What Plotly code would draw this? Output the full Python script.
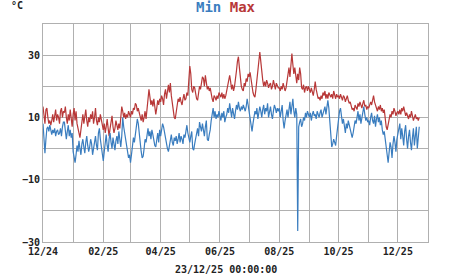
import pandas as pd
import plotly.graph_objects as go

start_date = "2024-12-01"

# Daily maximum temperatures (°C), month by month
tmax_2024_12 = [13.5, 10, 8, 12.5, 13, 10, 8, 9, 7.5, 9, 11, 8.5, 10, 12.5, 9, 11, 10, 8, 12, 13,
                10, 12, 11.5, 13.5, 10, 8, 11, 9, 12.5, 10, 7]
tmax_2025_01 = [11, 13, 9, 12, 8, 6, 5, 3.5, 6, 9, 11, 8, 10, 12.5, 9, 7, 10, 8.5, 11, 9.5,
                12, 8, 10, 13, 9, 7.5, 10, 8.5, 11, 9, 7]
tmax_2025_02 = [6, 8, 5, 7, 9.5, 6.5, 4, 6.5, 8, 10.5, 7, 5, 6.5, 9, 7.5, 6, 8, 6.5, 10, 13.5,
                12, 10, 11.5, 9.5, 11, 10, 12, 10.5]
tmax_2025_03 = [10, 12, 11, 13, 12.5, 14.5, 14, 12, 13, 11.5, 10, 9, 11, 8.5, 10, 12, 9.5, 13, 16, 19,
                16.5, 14, 15.5, 13.5, 16, 14, 11, 13, 15.5, 14, 16]
tmax_2025_04 = [15, 17, 16, 14, 17.5, 19, 16, 18, 20.5, 18, 21, 17, 14, 12, 10, 9.5, 12, 14.5, 16, 15,
                16.5, 15, 14, 16, 17.5, 15.5, 16, 18, 17, 22]
tmax_2025_05 = [26.5, 24, 19, 18, 20, 19.5, 17, 16, 15.5, 18, 20, 19, 21, 23, 22.5, 20, 23.5, 21, 19, 20,
                18.5, 19.5, 17, 16, 15, 17, 16.5, 15.5, 17, 16, 18]
tmax_2025_06 = [17, 16.5, 18, 16, 17.5, 16, 17, 18.5, 20, 22, 23.5, 21.5, 19, 20.5, 18.5, 20, 22, 25, 28, 29.5,
                26, 22, 20, 19, 18.5, 21, 20, 22.5, 21.5, 24]
tmax_2025_07 = [23, 24.5, 22, 19, 18, 17, 16.5, 19, 22, 26, 29, 31, 28, 24, 22, 20, 21.5, 20, 22, 21,
                19.5, 20.5, 21, 19, 20, 22, 20.5, 19, 21, 20, 19.5]
tmax_2025_08 = [19.5, 18.5, 20, 19, 21, 20, 18.5, 19.5, 22, 24, 26, 23, 27, 30.5, 27, 24, 26, 23, 21, 24,
                22, 26, 24, 19.5, 19, 20.5, 18, 19.5, 20, 18.5, 20]
tmax_2025_09 = [19, 18, 19.5, 18.5, 17, 19, 21.5, 19, 17.5, 16, 16.5, 15.5, 17, 16, 18, 17, 18.5, 16, 17.5, 16,
                18, 17, 16.5, 17.5, 16, 18.5, 17, 16, 17.5, 16.5]
tmax_2025_10 = [17, 16, 17.5, 16, 15.5, 17, 16.5, 15, 16, 17, 15.5, 14.5, 15, 13.5, 12.5, 13, 12, 14, 13, 12.5,
                14.5, 13.5, 15, 14, 13, 14.5, 15.5, 13.5, 14, 12.5, 13.5]
tmax_2025_11 = [13, 14, 15, 14, 15.5, 17, 15, 14, 13, 12, 13.5, 12.5, 14, 12, 13, 11.5, 12.5, 9, 7, 6,
                7.5, 9, 11, 10, 12, 11, 13, 12, 10.5, 11.5]
tmax_2025_12 = [12, 11, 12.5, 11, 13, 12, 13.5, 12, 10.5, 11.5, 10, 9.5, 11, 10, 12, 10.5, 9, 10, 11, 9.5,
                10, 9, 10]

# Daily minimum temperatures (°C), month by month
tmin_2024_12 = [8, 4, -1.5, 3, 6.5, 7, 5.5, 7.5, 6, 4.5, 6, 5, 6.5, 4, 5.5, 6, 4.5, 5, 6.5, 4,
                7, 8.5, 8.5, 6, 3, 5.5, 7.5, 4, 6, 3.5, 5]
tmin_2025_01 = [-1, -3.5, -4.5, -2, 1, -1, 2.5, 0, -2, 1.5, 3, 0.5, -1.5, 2, 4, 1, -1, 0.5, 3, 1.5,
                -2, 0, 2.5, 4, 1, -0.5, 5, 6.5, 3, 0, -2]
tmin_2025_02 = [-4, -1, 2, 4.5, 1, -1, 3, 5, 2, 0, 3.5, 1, -0.5, 2.5, 4, 1.5, 5.5, 3, 0.5, 4,
                10, 7, 5, 2, 0, -1, -3, -2]
tmin_2025_03 = [-4.5, -2, 1, 3.5, 2, 5, 7, 9.5, 8, 4, 2, -1, -3, -2.5, 0, 3, 2, 5, 6.5, 4,
                5.5, 3, 6, 4.5, 2, 1, 0.5, 3.5, 5, 2, 6]
tmin_2025_04 = [4, 6, 8, 7, 5, 3, 1.5, 0, -1, 1, 3, 4.5, 2, 1, 3.5, 2.5, 4, 1.5, 3, 5,
                2, 4, 3, 1.5, 4.5, 3.5, 5.5, 7.5, 5, 3]
tmin_2025_05 = [2, 4, 5.5, 0, -0.5, 1.5, 3, 5, 6.5, 4, 8.5, 7, 5.5, 8, 6, 4, 7, 9, 3, 2.5,
                4.5, 6, 9, 11, 13, 10, 12, 9.5, 11, 10, 12]
tmin_2025_06 = [10.5, 9, 11.5, 10, 12, 8.5, 10, 11, 13, 11.5, 14.5, 12, 10, 13, 11, 9.5, 12, 14, 12.5, 15,
                13, 12, 13.5, 12.5, 14, 13, 12, 13.5, 16, 14]
tmin_2025_07 = [12, 9, 7, 5.5, 8, 10.5, 12, 11, 13, 9.5, 11, 13.5, 12, 10, 12.5, 14, 11, 13, 12, 14.5,
                10, 12, 13.5, 11, 9.5, 12, 14, 13, 11.5, 13, 12]
tmin_2025_08 = [13, 10, 12, 14, 9, 6.5, 9, 11, 12.5, 10, 13, 15, 11, 14, 16, 12, 10, 13, 11, -26.5,
                7, 8.5, 9.5, 7, 8, 10, 9, 11.5, 10, 12, 11]
tmin_2025_09 = [10, 11.5, 9, 11, 12, 10.5, 11, 9.5, 12, 11, 10, 11.5, 12.5, 10, 11, 12, 13.5, 11, 14, 15.5,
                13, 8, 2, 0.5, 1.5, 3, 2, 1, 4, 7]
tmin_2025_10 = [9, 12, 13, 10, 8, 9.5, 7, 5, 8, 6.5, 9, 7.5, 5.5, 4, 3.5, 5, 7, 9, 8, 10.5,
                12, 9, 11, 8, 10, 12.5, 13.5, 11, 9, 10, 8.5]
tmin_2025_11 = [9, 7.5, 10, 11.5, 9, 8, 10.5, 7, 9.5, 11, 8.5, 10, 7.5, 9, 6, 4.5, 5.5, 3.5, 1, -2,
                -4.5, -1, 2, 0.5, -3, 1.5, 4, 2, -1, 3]
tmin_2025_12 = [5, 7, 8, 3, 6.5, 4, 1, 5.5, 7.5, 3, 0, 4, 6, 2, -0.5, 3.5, 6.5, 1, 4, 7,
                0, 3, 7]

# Axis ticks
x_tick_dates = ["2024-12-01", "2025-01-01", "2025-02-01", "2025-03-01", "2025-04-01",
                "2025-05-01", "2025-06-01", "2025-07-01", "2025-08-01", "2025-09-01",
                "2025-10-01", "2025-11-01", "2025-12-01", "2026-01-01"]
x_tick_text = ["12/24", "", "02/25", "", "04/25", "", "06/25", "", "08/25", "",
               "10/25", "", "12/25", ""]
y_tick_vals = [-30, -20, -10, 0, 10, 20, 30, 40]
y_tick_text = ["\u221230", "", "\u221210", "", "10", "", "30", ""]

tmax = (tmax_2024_12 + tmax_2025_01 + tmax_2025_02 + tmax_2025_03 + tmax_2025_04 + tmax_2025_05
        + tmax_2025_06 + tmax_2025_07 + tmax_2025_08 + tmax_2025_09 + tmax_2025_10 + tmax_2025_11
        + tmax_2025_12)
tmin = (tmin_2024_12 + tmin_2025_01 + tmin_2025_02 + tmin_2025_03 + tmin_2025_04 + tmin_2025_05
        + tmin_2025_06 + tmin_2025_07 + tmin_2025_08 + tmin_2025_09 + tmin_2025_10 + tmin_2025_11
        + tmin_2025_12)
dates = pd.date_range(start_date, periods=len(tmax), freq="D")
dates_min = pd.date_range(start_date, periods=len(tmin), freq="D")

BLUE = "#3a7dbf"
RED = "#b83838"
GRID = "#b0b0b0"
FONT = "DejaVu Sans Mono"

fig = go.Figure()
fig.add_trace(go.Scatter(x=dates, y=tmax, mode="lines", line=dict(color=RED, width=1.2),
                         showlegend=False, hoverinfo="skip"))
fig.add_trace(go.Scatter(x=dates_min, y=tmin, mode="lines", line=dict(color=BLUE, width=1.2),
                         showlegend=False, hoverinfo="skip"))

fig.update_layout(
    width=451, height=275,
    margin=dict(l=43, r=23, t=24, b=33),
    paper_bgcolor="white", plot_bgcolor="white",
    font=dict(family=FONT, size=10, color="#222222", weight="bold"),
    showlegend=False,
)
fig.update_xaxes(
    type="date", range=["2024-12-01", "2026-01-01"],
    tickmode="array", tickvals=x_tick_dates, ticktext=x_tick_text,
    showgrid=True, gridcolor=GRID, gridwidth=1,
    showline=True, linecolor=GRID, linewidth=1, mirror=True,
    ticks="", tickfont=dict(family=FONT, size=10, color="#222222", weight="bold"),
    zeroline=False, fixedrange=True,
)
fig.update_yaxes(
    range=[-30, 40],
    tickmode="array", tickvals=y_tick_vals, ticktext=y_tick_text,
    showgrid=True, gridcolor=GRID, gridwidth=1,
    showline=True, linecolor=GRID, linewidth=1, mirror=True,
    ticks="", ticklabelstandoff=0,
    tickfont=dict(family=FONT, size=10, color="#222222", weight="bold"),
    zeroline=False, fixedrange=True,
)

fig.add_annotation(
    xref="paper", yref="paper", x=0.5, y=1, xanchor="center", yanchor="bottom",
    xshift=-9.5, yshift=7,
    text=f"<span style='color:{BLUE}'>Min</span> <span style='color:{RED}'>Max</span>",
    showarrow=False, font=dict(family=FONT, size=14, weight="bold"),
)
fig.add_annotation(
    xref="paper", yref="paper", x=0, y=1, xanchor="left", yanchor="bottom",
    xshift=-34, yshift=11,
    text="°C", showarrow=False,
    font=dict(family=FONT, size=10, color="#222222", weight="bold"),
)
fig.add_annotation(
    xref="paper", yref="paper", x=0.5, y=0, xanchor="center", yanchor="top",
    xshift=-9.5, yshift=-20,
    text="23/12/25 00:00:00", showarrow=False,
    font=dict(family=FONT, size=10, color="#222222", weight="bold"),
)

fig.write_html("out.html")
